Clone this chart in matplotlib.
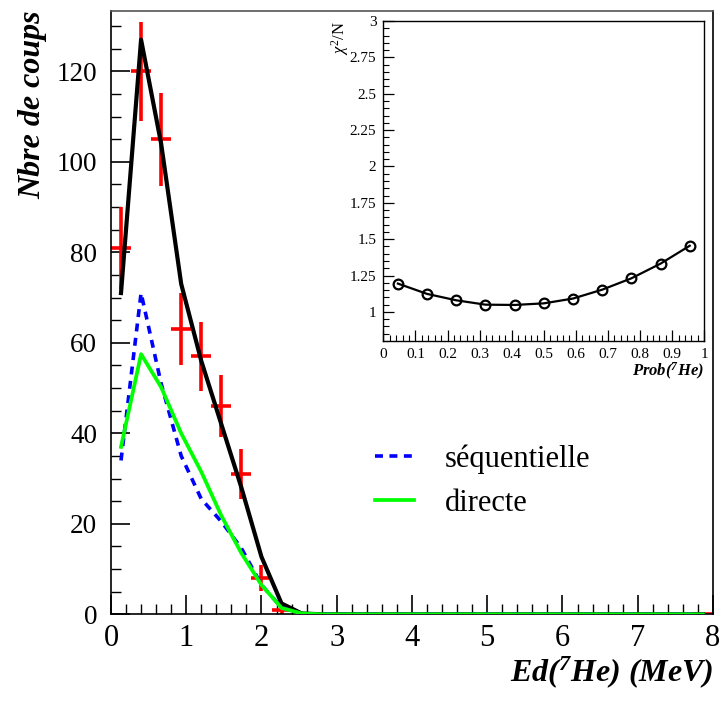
import numpy as np
import matplotlib
matplotlib.use("Agg")
import matplotlib.pyplot as plt
from matplotlib.ticker import MultipleLocator

plt.rcParams['font.family'] = ['Liberation Serif', 'DejaVu Serif']
plt.rcParams['mathtext.fontset'] = 'custom'
plt.rcParams['mathtext.rm'] = 'Liberation Serif'
plt.rcParams['mathtext.it'] = 'Liberation Serif:italic'
plt.rcParams['mathtext.bf'] = 'Liberation Serif:bold:italic'

# ---- data ----
n_bins = 30
e_min, e_max = 0.0, 8.0
bin_width = (e_max - e_min) / n_bins
energy = e_min + (np.arange(n_bins) + 0.5) * bin_width

counts = [81, 120, 105, 63, 57, 46, 31, 8, 1] + [0] * 21
total_fit = [71, 127, 104, 73, 56, 42, 28, 12.7, 2.4, 0.2] + [0] * 20
sequentielle = [34, 71, 51, 35, 25.5, 20.5, 14.6, 6.5, 1.5, 0.1] + [0] * 20
directe = [37, 57.5, 50.2, 40, 31.5, 21.8, 13.5, 6.5, 1.4, 0.2] + [0] * 20

prob = [(i + 0.5) / 11 for i in range(11)]
chi2n = [1.195, 1.124, 1.080, 1.050, 1.048, 1.059, 1.092, 1.153, 1.231, 1.332, 1.455]

legend_labels = ["séquentielle", "directe"]

# ---- figure ----
fig = plt.figure(figsize=(7.22, 7.02), dpi=100)
ax = fig.add_axes([0.1537, 0.1249, 0.9875 - 0.1537, 0.9848 - 0.1249])

counts_a = np.array(counts, dtype=float)
shown = counts_a > 0
shown[-1] = True
ax.errorbar(energy[shown], counts_a[shown], yerr=np.sqrt(counts_a[shown]),
            xerr=bin_width / 2, fmt='none', ecolor='#ff0000', elinewidth=2.6,
            capsize=0, zorder=2)
ax.plot(energy, total_fit, color='black', lw=3.0, zorder=3)
ln_seq, = ax.plot(energy, sequentielle, color='#0000ff', lw=2.6,
                  dashes=(2.2, 1.8), zorder=4, label=legend_labels[0])
ln_dir, = ax.plot(energy, directe, color='#00ff00', lw=2.7, zorder=5,
                  label=legend_labels[1])

ax.set_xlim(0, 8)
ax.set_ylim(0, 133.4)
ax.xaxis.set_major_locator(MultipleLocator(1))
ax.xaxis.set_minor_locator(MultipleLocator(0.2))
ax.yaxis.set_major_locator(MultipleLocator(20))
ax.yaxis.set_minor_locator(MultipleLocator(5))
ax.tick_params(which='both', direction='in', top=False, right=False)
ax.tick_params(which='major', length=14, width=1.2)
ax.tick_params(which='minor', length=7, width=1.0)
ax.tick_params(axis='x', labelsize=22, pad=7)
ax.tick_params(axis='y', labelsize=19.5, pad=10)
for s in ax.spines.values():
    s.set_linewidth(1.2)
ax.spines['top'].set_color('#555555')

fig.text(0.9875, 0.043, r'Ed($^{\mathbf{7}}$He) (MeV)', ha='right', va='center',
         fontsize=23, fontweight='bold', fontstyle='italic')
fig.text(0.045, 0.985, 'Nbre de coups', ha='center', va='top', rotation=90,
         fontsize=23, fontweight='bold', fontstyle='italic')

ax.legend(handles=[ln_seq, ln_dir], loc='upper left',
          bbox_to_anchor=(0.519, 1 - 444 / 702), bbox_transform=fig.transFigure,
          frameon=False, fontsize=22, handlelength=1.3, handletextpad=1.0,
          labelspacing=0.5, borderaxespad=0, borderpad=0)

# ---- inset ----
ins = fig.add_axes([0.5309, 0.5142, 0.9755 - 0.5309, 0.9701 - 0.5142])
ins.plot(prob, chi2n, color='black', lw=1.6, marker='o', markersize=7,
         markerfacecolor='none', markeredgewidth=1.6)
ins.set_xlim(0, 1)
ins.set_ylim(0.8, 3)
ins.xaxis.set_major_locator(MultipleLocator(0.1))
ins.xaxis.set_minor_locator(MultipleLocator(0.02))
ins.yaxis.set_major_locator(MultipleLocator(0.25))
ins.yaxis.set_minor_locator(MultipleLocator(0.05))
ins.tick_params(which='both', direction='in', top=False, right=False)
ins.tick_params(which='major', length=8, width=0.9, labelsize=11, pad=5)
ins.tick_params(which='minor', length=4, width=0.8)
ins.xaxis.set_major_formatter(plt.FuncFormatter(lambda v, p: ('%g' % round(v, 2))))
ins.yaxis.set_major_formatter(plt.FuncFormatter(lambda v, p: ('%g' % round(v, 2))))
for s in ins.spines.values():
    s.set_linewidth(1.0)
ins.set_xlabel(r'Prob($^{\mathbf{7}}$He)', fontsize=12, fontweight='bold',
               fontstyle='italic', loc='right', labelpad=0)
ins.text(-0.135, 1.0, r'$\chi^{2}$/N', transform=ins.transAxes, rotation=90,
         ha='center', va='top', fontsize=12)

fig.savefig('out.png', dpi=100)
